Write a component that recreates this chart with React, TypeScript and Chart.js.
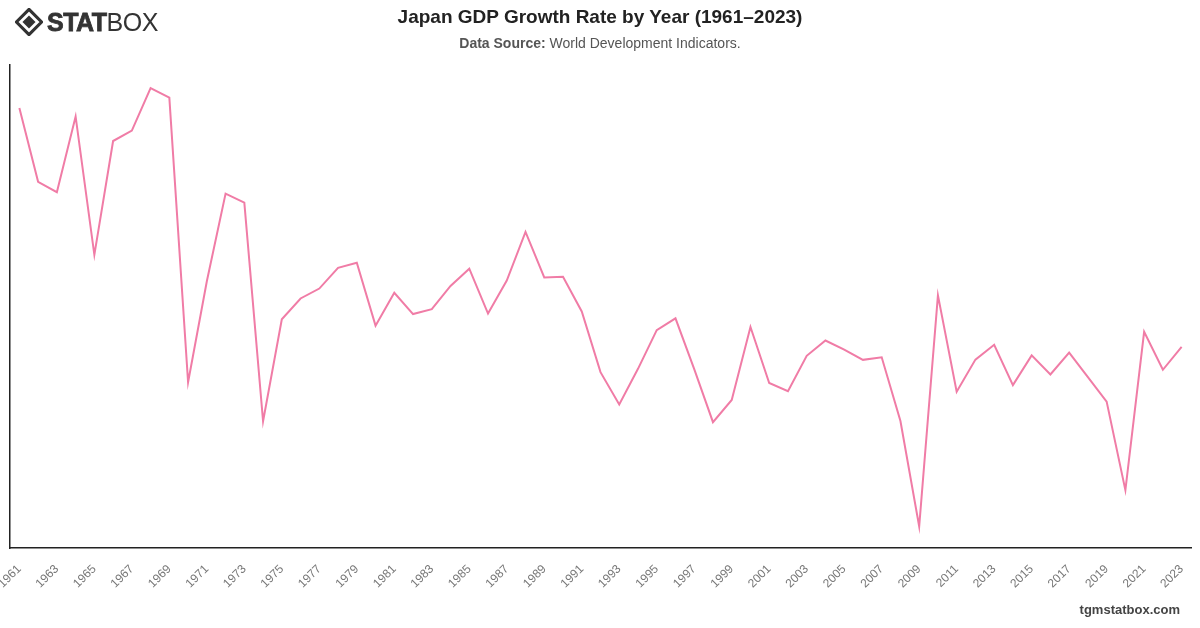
import React, { useEffect, useRef } from "react";
import { Chart, registerables } from "chart.js";

Chart.register(...registerables);

const years: string[] = [];
for (let y = 1961; y <= 2023; y++) years.push(String(y));

const growth: number[] = [
  12.04, 8.91, 8.47, 11.68, 5.82, 10.64, 11.08, 12.88, 12.48, 0.42,
  4.7, 8.41, 8.03, -1.23, 3.09, 3.97, 4.39, 5.27, 5.48, 2.82,
  4.21, 3.31, 3.52, 4.5, 5.23, 3.33, 4.73, 6.79, 4.86, 4.89,
  3.42, 0.85, -0.52, 0.99, 2.63, 3.13, 0.98, -1.27, -0.33, 2.76,
  0.39, 0.04, 1.54, 2.19, 1.8, 1.37, 1.48, -1.22, -5.69, 4.1,
  0.02, 1.38, 2.01, 0.3, 1.56, 0.75, 1.68, 0.64, -0.4, -4.15,
  2.56, 0.95, 1.92,
];

const TITLE = "Japan GDP Growth Rate by Year (1961–2023)";
const SOURCE_LABEL = "Data Source:";
const SOURCE_TEXT = " World Development Indicators.";
const FOOTER = "tgmstatbox.com";

const FONT = "'Liberation Sans', Arial, Helvetica, sans-serif";

function Logo() {
  return (
    <div style={{ position: "absolute", left: 15, top: 7, display: "flex", alignItems: "center", height: 30 }}>
      <svg width="28" height="28" viewBox="0 0 30 30">
        <polygon points="15,1.5 28.5,15 15,28.5 1.5,15" fill="none" stroke="#333" strokeWidth="3.4" />
        <polygon points="15,8 22,15 15,22 8,15" fill="#333" />
      </svg>
      <span style={{ fontFamily: FONT, fontWeight: 900, fontSize: 25, color: "#333", marginLeft: 4, letterSpacing: -0.5, WebkitTextStroke: "0.8px #333" }}>STAT</span>
      <span style={{ fontFamily: FONT, fontWeight: 300, fontSize: 25, color: "#333", letterSpacing: -0.5 }}>BOX</span>
    </div>
  );
}

export default function App() {
  const ref = useRef<HTMLCanvasElement | null>(null);

  useEffect(() => {
    document.body.style.margin = "0";
    const ctx = ref.current!;
    const chart = new Chart(ctx, {
      type: "line",
      data: {
        labels: years,
        datasets: [
          {
            data: growth,
            borderColor: "#F07CA6",
            borderWidth: 2,
            pointRadius: 0,
            tension: 0,
            fill: false,
          },
        ],
      },
      options: {
        animation: false,
        responsive: false,
        devicePixelRatio: 1,
        layout: { padding: { left: 10, right: 9, top: 65, bottom: 0 } },
        plugins: { legend: { display: false }, title: { display: false }, tooltip: { enabled: false } },
        scales: {
          x: {
            offset: true,
            grid: { display: false },
            border: { display: true, color: "#222", width: 1.5 },
            ticks: {
              autoSkip: false,
              minRotation: 45,
              maxRotation: 45,
              color: "#777",
              font: { family: FONT, size: 12 },
              padding: 6,
              callback: (v: any, i: number) => (i % 2 === 0 ? years[i] : ""),
            },
            afterFit: (s: any) => {
              s.height = 80;
              s.paddingLeft = 0;
              s.paddingRight = 0;
            },
          },
          y: {
            min: -6.6,
            max: 13.86,
            grid: { display: false },
            border: { display: true, color: "#222", width: 1.5 },
            ticks: { display: false },
            afterFit: (s: any) => {
              s.width = 0;
            },
          },
        },
      },
    });
    return () => chart.destroy();
  }, []);

  return (
    <div style={{ position: "relative", width: 1200, height: 628, background: "#fff", overflow: "hidden" }}>
      <canvas ref={ref} width={1200} height={628} style={{ position: "absolute", left: 0, top: 0 }} />
      <Logo />
      <div style={{ position: "absolute", left: 0, width: 1200, top: 6, textAlign: "center", fontFamily: FONT, fontWeight: 700, fontSize: 19, color: "#222" }}>
        {TITLE}
      </div>
      <div style={{ position: "absolute", left: 0, width: 1200, top: 35, textAlign: "center", fontFamily: FONT, fontSize: 14, color: "#555" }}>
        <b>{SOURCE_LABEL}</b>
        {SOURCE_TEXT}
      </div>
      <div style={{ position: "absolute", right: 20, top: 602, fontFamily: FONT, fontWeight: 700, fontSize: 13, color: "#444" }}>
        {FOOTER}
      </div>
    </div>
  );
}
